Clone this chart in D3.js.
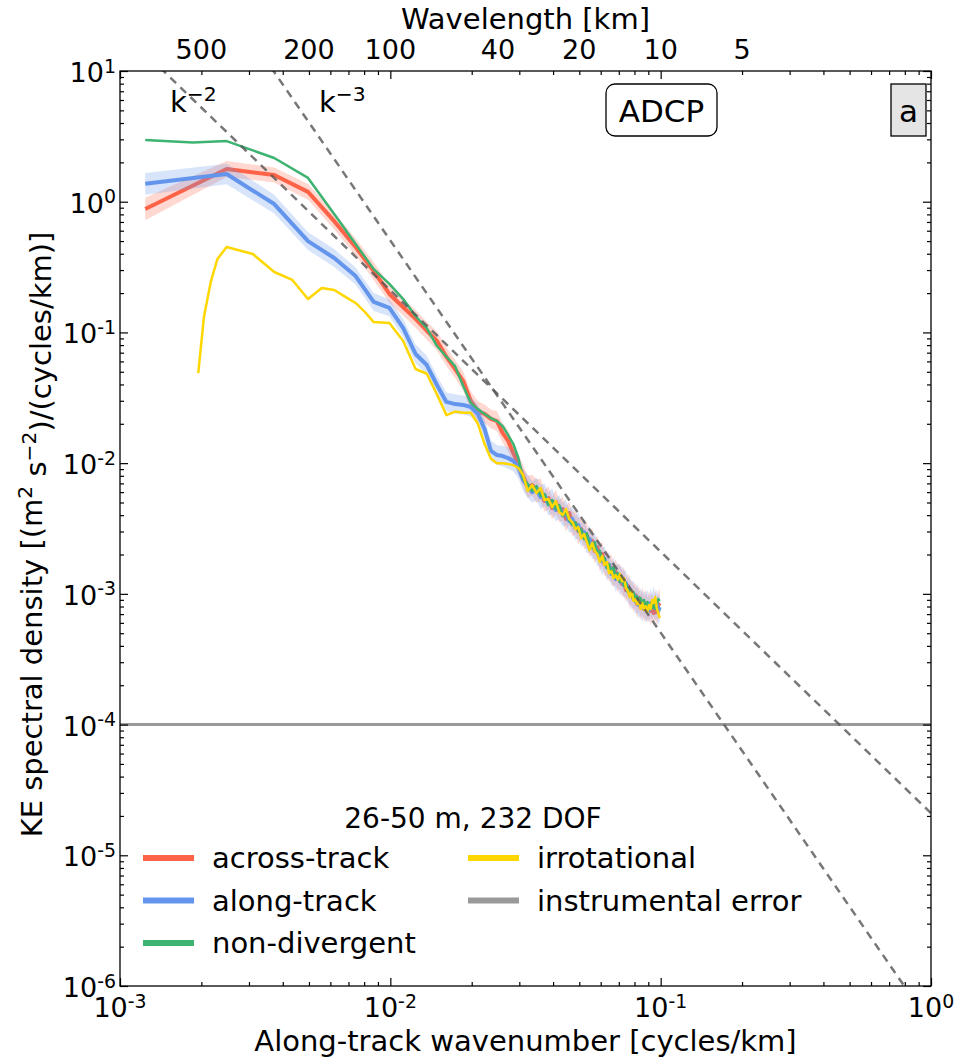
<!DOCTYPE html>
<html>
<head>
<meta charset="utf-8">
<script src="https://cdn.jsdelivr.net/npm/d3@7"></script>
<style>
  body { margin: 0; background: #fff; }
  text { font-family: "DejaVu Sans", sans-serif; fill: #000; }
</style>
</head>
<body>
<svg id="ke-spectrum-svg" width="957" height="1059"></svg>
<script>
// along-track wavenumber grid [cycles/km]
const wavenumber = [0.00124, 0.00248, 0.00372, 0.00496, 0.0062, 0.00744, 0.00868, 0.00992, 0.01116, 0.0124,
  0.01364, 0.01488, 0.01612, 0.01736, 0.0186, 0.01984, 0.02108, 0.02232, 0.02356, 0.0248,
  0.02604, 0.02728, 0.02852, 0.02976, 0.031, 0.03224, 0.03348, 0.03472, 0.03596, 0.0372,
  0.03844, 0.03968, 0.04092, 0.04216, 0.0434, 0.04464, 0.04588, 0.04712, 0.04836, 0.0496,
  0.05084, 0.05208, 0.05332, 0.05456, 0.0558, 0.05704, 0.05828, 0.05952, 0.06076, 0.062,
  0.06324, 0.06448, 0.06572, 0.06696, 0.0682, 0.06944, 0.07068, 0.07192, 0.07316, 0.0744,
  0.07564, 0.07688, 0.07812, 0.07936, 0.0806, 0.08184, 0.08308, 0.08432, 0.08556, 0.0868,
  0.08804, 0.08928, 0.09052, 0.09176, 0.093, 0.09424, 0.09548, 0.09672, 0.09796, 0.0992];

const acrossTrack = [0.88, 1.78, 1.60, 1.19, 0.71, 0.45, 0.295, 0.197, 0.156, 0.127,
  0.103, 0.086, 0.065, 0.0525, 0.0425, 0.0299, 0.025, 0.0238, 0.0218, 0.0210,
  0.017, 0.0148, 0.0119, 0.0098,
  0.00796, 0.00657, 0.00680, 0.00612, 0.00622, 0.00513, 0.00541, 0.00453, 0.00504, 0.00430,
  0.00445, 0.00374, 0.00415, 0.00342, 0.00348, 0.00302, 0.00313, 0.00272, 0.00282, 0.00236,
  0.00254, 0.00213, 0.00228, 0.00188, 0.00202, 0.00169, 0.00172, 0.00155, 0.00158, 0.00139,
  0.00147, 0.00130, 0.00137, 0.00119, 0.00125, 0.00107, 0.00115, 0.000979, 0.00103, 0.000912,
  0.000979, 0.000836, 0.000929, 0.000793, 0.000881, 0.000765, 0.000836, 0.000752, 0.000821, 0.000739,
  0.000807, 0.000713, 0.000836, 0.000726, 0.000821, 0.000851];

// confidence band, as a factor above / below the estimate
const acrossBand = [1.22, 1.15, 1.14, 1.15, 1.16, 1.16, 1.17, 1.17, 1.16, 1.17,
  1.17, 1.18, 1.18, 1.17, 1.18, 1.18, 1.19, 1.18, 1.18, 1.19,
  1.19, 1.2, 1.2, 1.2, 1.21, 1.22, 1.2, 1.23, 1.22, 1.21,
  1.23, 1.22, 1.24, 1.22, 1.23, 1.25, 1.22, 1.24, 1.23, 1.26,
  1.22, 1.24, 1.25, 1.23, 1.26, 1.24, 1.22, 1.27, 1.25, 1.23,
  1.26, 1.24, 1.28, 1.23, 1.25, 1.27, 1.24, 1.26, 1.29, 1.23,
  1.25, 1.28, 1.24, 1.27, 1.25, 1.29, 1.24, 1.26, 1.28, 1.25,
  1.3, 1.24, 1.27, 1.29, 1.25, 1.28, 1.3, 1.26, 1.28, 1.27];

const alongTrack = [1.37, 1.63, 0.96, 0.50, 0.371, 0.270, 0.171, 0.154, 0.108, 0.0684,
  0.0563, 0.0396, 0.0294, 0.0283, 0.0279, 0.0269, 0.0238, 0.0182, 0.0124, 0.01153,
  0.01133, 0.01094, 0.01037, 0.00933,
  0.00742, 0.00668, 0.00601, 0.00633, 0.00550, 0.00570, 0.00486, 0.00513, 0.00438, 0.00461,
  0.00401, 0.00422, 0.00361, 0.00374, 0.00319, 0.00336, 0.00282, 0.00297, 0.00254, 0.00263,
  0.00228, 0.00232, 0.00205, 0.00198, 0.00178, 0.00185, 0.00160, 0.00166, 0.00142, 0.00149,
  0.00130, 0.00139, 0.00125, 0.00130, 0.00117, 0.00121, 0.00105, 0.00107, 0.000962, 0.000997,
  0.000881, 0.000929, 0.000821, 0.000866, 0.000779, 0.000851, 0.000765, 0.000836, 0.000752, 0.000851,
  0.000793, 0.000881, 0.000779, 0.000836, 0.000739, 0.000793];

const alongBand = [1.21, 1.2, 1.18, 1.17, 1.17, 1.16, 1.17, 1.16, 1.17, 1.18,
  1.18, 1.17, 1.18, 1.19, 1.18, 1.19, 1.18, 1.19, 1.2, 1.19,
  1.2, 1.21, 1.2, 1.22, 1.21, 1.23, 1.21, 1.22, 1.24, 1.22,
  1.23, 1.25, 1.22, 1.24, 1.23, 1.26, 1.23, 1.25, 1.24, 1.27,
  1.23, 1.25, 1.24, 1.27, 1.23, 1.26, 1.25, 1.24, 1.28, 1.24,
  1.27, 1.25, 1.23, 1.28, 1.26, 1.24, 1.29, 1.25, 1.27, 1.26,
  1.24, 1.29, 1.26, 1.28, 1.25, 1.3, 1.26, 1.27, 1.29, 1.25,
  1.28, 1.3, 1.25, 1.29, 1.27, 1.31, 1.26, 1.29, 1.3, 1.28];

const kNonDiv = [0.00124, 0.00186].concat(wavenumber.slice(1));
const nonDivergent = [2.96, 2.84, 2.91, 2.16, 1.52, 0.805, 0.475, 0.305, 0.235, 0.180,
  0.133, 0.108, 0.0787, 0.0652, 0.0552, 0.0389, 0.0288, 0.0259, 0.0238, 0.0221,
  0.0210, 0.0192, 0.0164, 0.0140, 0.01094,
  0.00755, 0.00692, 0.00612, 0.00668, 0.00560, 0.00580, 0.00478, 0.00522, 0.00445, 0.00478,
  0.00394, 0.00415, 0.00367, 0.00336, 0.00354, 0.00302, 0.00313, 0.00263, 0.00292, 0.00236,
  0.00224, 0.00249, 0.00202, 0.00213, 0.00181, 0.00188, 0.00158, 0.00169, 0.00144, 0.00160,
  0.00134, 0.00144, 0.00123, 0.00132, 0.00115, 0.00121, 0.00103, 0.00109, 0.000945, 0.00103,
  0.000897, 0.000962, 0.000866, 0.000929, 0.000821, 0.000897, 0.000793, 0.000866, 0.000765, 0.000836,
  0.000779, 0.000851, 0.000765, 0.000836, 0.000912, 0.000881];

const kIrrot = [0.001947, 0.002046, 0.00217, 0.002294, 0.00248, 0.0031, 0.00372, 0.00434,
  0.00496, 0.00558, 0.0062, 0.00682, 0.00744, 0.00806, 0.00868].concat(wavenumber.slice(7));
const irrotational = [0.0489, 0.133, 0.247, 0.365, 0.450, 0.398, 0.290, 0.252,
  0.180, 0.219, 0.211, 0.187, 0.168, 0.143, 0.120,
  0.118, 0.0859, 0.0525, 0.0483, 0.0335, 0.0233, 0.0248, 0.0243, 0.0243, 0.0200,
  0.0140, 0.0108, 0.0100, 0.0100, 0.00984, 0.00966, 0.00918,
  0.00811, 0.00612, 0.00680, 0.00590, 0.00645, 0.00522, 0.00531, 0.00461, 0.00513, 0.00422,
  0.00401, 0.00445, 0.00374, 0.00354, 0.00313, 0.00324, 0.00267, 0.00287, 0.00249, 0.00216,
  0.00245, 0.00213, 0.00202, 0.00175, 0.00195, 0.00166, 0.00175, 0.00144, 0.00149, 0.00132,
  0.00139, 0.00128, 0.00142, 0.00125, 0.00132, 0.00111, 0.00105, 0.000945, 0.00105, 0.000881,
  0.000912, 0.000836, 0.000881, 0.000765, 0.000851, 0.000752, 0.000807, 0.000726, 0.000821, 0.000765,
  0.000897, 0.000851, 0.000945, 0.000779, 0.000713, 0.000653];

const instrumentalError = 1e-4;
// reference slopes E = coef * k^power
const slopeRefs = [
  { coef: 2.1e-5, power: -2, label: '\u22122' },
  { coef: 5.05e-7, power: -3, label: '\u22123' }
];
const wavelengthTicks = [500, 200, 100, 40, 20, 10, 5];
const xDecades = [1e-3, 1e-2, 1e-1, 1];
const yDecades = [1e-6, 1e-5, 1e-4, 1e-3, 1e-2, 1e-1, 1, 10];

const colors = {
  across: '#ff6347',
  along: '#6495ed',
  nondiv: '#3cb371',
  irrot: '#ffd700',
  error: '#999999'
};

(function() {
  let svg = d3.select('#ke-spectrum-svg');
  let left = 120, right = 931, top = 71, bottom = 986;

  let xScale = d3.scaleLog().domain([1e-3, 1]).range([left, right]);
  let yScale = d3.scaleLog().domain([1e-6, 10]).range([bottom, top]);

  let minorOf = (decades) => decades.slice(0, -1)
    .flatMap((d) => d3.range(2, 10).map((m) => d * m));

  svg.append('defs').append('clipPath').attr('id', 'plot-clip')
    .append('rect')
      .attr('x', left).attr('y', top)
      .attr('width', right - left).attr('height', bottom - top);

  let plot = svg.append('g').attr('clip-path', 'url(#plot-clip)');

  let zipSeries = (ks, vs, rs) => ks.map((k, i) => ({ k: k, v: vs[i], r: rs ? rs[i] : 1 }));

  let line = d3.line()
    .x((d) => xScale(d.k))
    .y((d) => yScale(d.v));
  let band = d3.area()
    .x((d) => xScale(d.k))
    .y0((d) => yScale(d.v / d.r))
    .y1((d) => yScale(d.v * d.r));

  // instrumental error
  plot.append('line')
    .attr('x1', xScale(1e-3)).attr('x2', xScale(1))
    .attr('y1', yScale(instrumentalError)).attr('y2', yScale(instrumentalError))
    .attr('stroke', colors.error)
    .attr('stroke-width', 3);

  // across / along track with confidence bands
  let across = zipSeries(wavenumber, acrossTrack, acrossBand);
  let along = zipSeries(wavenumber, alongTrack, alongBand);

  plot.append('path').datum(across)
    .attr('fill', colors.across).attr('fill-opacity', 0.25)
    .attr('d', band);
  plot.append('path').datum(across)
    .attr('fill', 'none').attr('stroke', colors.across)
    .attr('stroke-width', 4).attr('stroke-linejoin', 'round')
    .attr('d', line);

  plot.append('path').datum(along)
    .attr('fill', colors.along).attr('fill-opacity', 0.25)
    .attr('d', band);
  plot.append('path').datum(along)
    .attr('fill', 'none').attr('stroke', colors.along)
    .attr('stroke-width', 4).attr('stroke-linejoin', 'round')
    .attr('d', line);

  plot.append('path').datum(zipSeries(kNonDiv, nonDivergent))
    .attr('fill', 'none').attr('stroke', colors.nondiv)
    .attr('stroke-width', 2.5).attr('stroke-linejoin', 'round')
    .attr('d', line);

  plot.append('path').datum(zipSeries(kIrrot, irrotational))
    .attr('fill', 'none').attr('stroke', colors.irrot)
    .attr('stroke-width', 2.5).attr('stroke-linejoin', 'round')
    .attr('d', line);

  // k^-2, k^-3 reference lines
  slopeRefs.forEach((s) => {
    let pts = xScale.domain().map((k) => ({ k: k, v: s.coef * Math.pow(k, s.power) }));
    plot.append('path').datum(pts)
      .attr('fill', 'none')
      .attr('stroke', '#555')
      .attr('stroke-opacity', 0.8)
      .attr('stroke-width', 2.5)
      .attr('stroke-dasharray', '8,6')
      .attr('d', line);
  });

  // frame
  svg.append('rect')
    .attr('x', left).attr('y', top)
    .attr('width', right - left).attr('height', bottom - top)
    .attr('fill', 'none').attr('stroke', '#000').attr('stroke-width', 1.3);

  // ticks, pointing inward on all four sides
  let tickAxis = (axisFn, scale, values, size, transform) => {
    svg.append('g')
      .attr('transform', transform)
      .call(axisFn(scale).tickValues(values).tickSizeInner(-size).tickSizeOuter(0).tickFormat(''))
      .call((g) => g.select('.domain').remove())
      .call((g) => g.selectAll('.tick line').attr('stroke', '#000').attr('stroke-width', 1.2));
  };
  tickAxis(d3.axisBottom, xScale, xDecades, 8, `translate(0,${bottom})`);
  tickAxis(d3.axisBottom, xScale, minorOf(xDecades), 4, `translate(0,${bottom})`);
  tickAxis(d3.axisTop, xScale, xDecades, 8, `translate(0,${top})`);
  tickAxis(d3.axisTop, xScale, minorOf(xDecades), 4, `translate(0,${top})`);
  tickAxis(d3.axisLeft, yScale, yDecades, 8, `translate(${left},0)`);
  tickAxis(d3.axisLeft, yScale, minorOf(yDecades), 4, `translate(${left},0)`);
  tickAxis(d3.axisRight, yScale, yDecades, 8, `translate(${right},0)`);
  tickAxis(d3.axisRight, yScale, minorOf(yDecades), 4, `translate(${right},0)`);

  let powerLabel = (sel, v) => {
    let e = Math.round(Math.log10(v));
    sel.append('tspan').text('10');
    sel.append('tspan').attr('dy', '-0.5em').attr('font-size', '0.7em').text(e);
  };

  // bottom tick labels
  xDecades.forEach((v) => {
    svg.append('text')
      .attr('x', xScale(v)).attr('y', 1017)
      .attr('text-anchor', 'middle')
      .attr('font-size', '27px')
      .call(powerLabel, v);
  });

  // left tick labels
  yDecades.forEach((v) => {
    svg.append('text')
      .attr('x', 116).attr('y', yScale(v) + 11)
      .attr('text-anchor', 'end')
      .attr('font-size', '27px')
      .call(powerLabel, v);
  });

  // top axis: wavelength
  wavelengthTicks.forEach((w) => {
    svg.append('text')
      .attr('x', xScale(1 / w)).attr('y', 59)
      .attr('text-anchor', 'middle')
      .attr('font-size', '27px')
      .text(w);
  });

  svg.append('text')
    .attr('x', (left + right) / 2).attr('y', 29)
    .attr('text-anchor', 'middle')
    .attr('font-size', '29px')
    .text('Wavelength [km]');

  svg.append('text')
    .attr('x', (left + right) / 2).attr('y', 1051)
    .attr('text-anchor', 'middle')
    .attr('font-size', '29px')
    .text('Along-track wavenumber [cycles/km]');

  let ylab = svg.append('text')
    .attr('transform', `translate(42,${(top + bottom) / 2 + 6}) rotate(-90)`)
    .attr('text-anchor', 'middle')
    .attr('font-size', '29px');
  ylab.append('tspan').text('KE spectral density [(m');
  ylab.append('tspan').attr('dy', '-0.5em').attr('font-size', '0.7em').text('2');
  ylab.append('tspan').attr('dy', '0.5em').text(' s');
  ylab.append('tspan').attr('dy', '-0.5em').attr('font-size', '0.7em').text('\u22122');
  ylab.append('tspan').attr('dy', '0.5em').text(')/(cycles/km)]');

  // slope labels
  [[170, 112], [319, 112]].forEach((p, i) => {
    let t = svg.append('text')
      .attr('x', p[0]).attr('y', p[1])
      .attr('font-size', '29px');
    t.append('tspan').text('k');
    t.append('tspan').attr('dy', '-0.55em').attr('font-size', '0.7em').text(slopeRefs[i].label);
  });

  // ADCP box
  svg.append('rect')
    .attr('x', 606).attr('y', 84).attr('width', 111).attr('height', 52)
    .attr('rx', 9).attr('fill', '#fff').attr('stroke', '#000').attr('stroke-width', 1.3);
  svg.append('text')
    .attr('x', 661.5).attr('y', 122)
    .attr('text-anchor', 'middle')
    .attr('font-size', '31px')
    .text('ADCP');

  // panel letter
  svg.append('rect')
    .attr('x', 891).attr('y', 84).attr('width', 35).attr('height', 52)
    .attr('fill', '#e5e5e5').attr('stroke', '#000').attr('stroke-width', 1.3);
  svg.append('text')
    .attr('x', 908.5).attr('y', 122)
    .attr('text-anchor', 'middle')
    .attr('font-size', '31px')
    .text('a');

  // legend
  let legendItems = [
    { label: 'across-track', color: colors.across, col: 0, row: 0 },
    { label: 'along-track', color: colors.along, col: 0, row: 1 },
    { label: 'non-divergent', color: colors.nondiv, col: 0, row: 2 },
    { label: 'irrotational', color: colors.irrot, col: 1, row: 0 },
    { label: 'instrumental error', color: colors.error, col: 1, row: 1 }
  ];
  let colX = [143, 468];
  let legend = svg.append('g');
  legend.append('text')
    .attr('x', 473).attr('y', 828)
    .attr('text-anchor', 'middle')
    .attr('font-size', '28px')
    .text('26-50 m, 232 DOF');
  legendItems.forEach((d) => {
    let cy = 858 + d.row * 42.5;
    legend.append('line')
      .attr('x1', colX[d.col]).attr('x2', colX[d.col] + 51)
      .attr('y1', cy).attr('y2', cy)
      .attr('stroke', d.color).attr('stroke-width', 6);
    legend.append('text')
      .attr('x', colX[d.col] + 69).attr('y', cy + 10)
      .attr('font-size', '29px')
      .text(d.label);
  });
})();
</script>
</body>
</html>
